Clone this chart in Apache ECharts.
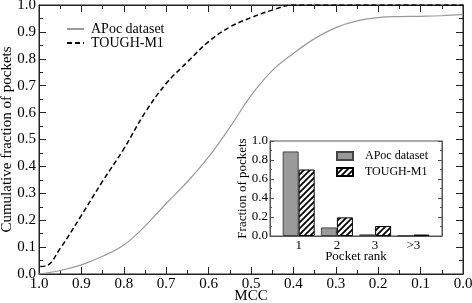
<!DOCTYPE html>
<html><head><meta charset="utf-8">
<script src="https://cdn.jsdelivr.net/npm/echarts@6/dist/echarts.min.js"></script>
<style>html,body{margin:0;padding:0;background:#fff}#c{width:472px;height:303px}</style>
</head><body><div id="c"></div>
<script>
// ---- Data ----
const apocMCC  = [1.0, 0.95, 0.9, 0.85, 0.8, 0.75, 0.7, 0.65, 0.6, 0.55, 0.5, 0.45, 0.4, 0.35, 0.3, 0.25, 0.2, 0.15, 0.1, 0.05, 0.0];
const apocFrac = [0.0, 0.013, 0.034, 0.066, 0.108, 0.178, 0.262, 0.343, 0.435, 0.545, 0.663, 0.756, 0.82, 0.875, 0.916, 0.941, 0.953, 0.957, 0.958, 0.960, 0.965];
const toughMCC  = [0.997, 0.983, 0.95, 0.9, 0.85, 0.8, 0.75, 0.7, 0.65, 0.6, 0.55, 0.5, 0.45, 0.4, 0.0];
const toughFrac = [0.028, 0.03, 0.095, 0.218, 0.345, 0.465, 0.6, 0.708, 0.788, 0.864, 0.918, 0.953, 0.981, 1.0, 1.0];
const rankLabels = ['1', '2', '3', '>3'];
const rankPos = [1, 2, 3, 4];
const apocRank  = [0.89, 0.09, 0.017, 0.006];
const toughRank = [0.70, 0.196, 0.105, 0.015];

// ---- Styling ----
const FF = "'Liberation Serif','DejaVu Serif',serif";
const pc = document.createElement('canvas');
pc.width = 6; pc.height = 6;
const g = pc.getContext('2d');
g.fillStyle = '#fff'; g.fillRect(0, 0, 6, 6);
g.strokeStyle = '#000'; g.lineWidth = 1.8;
g.beginPath();
g.moveTo(-1, 7); g.lineTo(7, -1);
g.moveTo(-4, 4); g.lineTo(4, -4);
g.moveTo(2, 10); g.lineTo(10, 2);
g.stroke();

const axisCol = '#222';
const mainX = (pos, labels) => ({
  gridIndex: 0, type: 'value', min: 0, max: 1, interval: 0.1, inverse: true, position: pos,
  axisLine: { show: true, onZero: false, lineStyle: { color: axisCol, width: 1 } },
  axisTick: { show: true, inside: true, length: 7, lineStyle: { color: axisCol } },
  minorTick: { show: true, splitNumber: 2, length: 4, lineStyle: { color: axisCol } },
  splitLine: { show: false },
  axisLabel: { show: labels, fontFamily: FF, fontSize: 15, color: '#000', margin: 3,
               formatter: v => v.toFixed(1) },
  name: labels ? 'MCC' : '', nameLocation: 'middle', nameGap: 15, nameMoveOverlap: false,
  nameTextStyle: { fontFamily: FF, fontSize: 15, color: '#000' }
});
const mainY = (pos, labels) => ({
  gridIndex: 0, type: 'value', min: 0, max: 1, interval: 0.1, position: pos,
  axisLine: { show: true, onZero: false, lineStyle: { color: axisCol, width: 1 } },
  axisTick: { show: true, inside: true, length: 7, lineStyle: { color: axisCol } },
  minorTick: { show: true, splitNumber: 2, length: 4, lineStyle: { color: axisCol } },
  splitLine: { show: false },
  axisLabel: { show: labels, fontFamily: FF, fontSize: 15, color: '#000', margin: 3,
               formatter: v => v.toFixed(1) },
  name: labels ? 'Cumulative fraction of pockets' : '', nameLocation: 'middle', nameGap: 24, nameMoveOverlap: false,
  nameTextStyle: { fontFamily: FF, fontSize: 15, color: '#000' }
});
const inCol = '#555';
const insetY = (pos, labels) => ({
  gridIndex: 1, type: 'value', min: 0, max: 1, interval: 0.2, position: pos,
  axisLine: { show: true, onZero: false, lineStyle: { color: inCol, width: 1 } },
  axisTick: { show: true, inside: true, length: 4, lineStyle: { color: inCol } },
  minorTick: { show: true, splitNumber: 2, length: 2, lineStyle: { color: inCol } },
  splitLine: { show: false },
  axisLabel: { show: labels, fontFamily: FF, fontSize: 13, color: '#000', margin: 2,
               formatter: v => v.toFixed(1) },
  name: labels ? 'Fraction of pockets' : '', nameLocation: 'middle', nameGap: 21, nameMoveOverlap: false,
  nameTextStyle: { fontFamily: FF, fontSize: 13, color: '#000' }
});

const chart = echarts.init(document.getElementById('c'), null, { renderer: 'canvas' });
chart.setOption({
  animation: false,
  backgroundColor: '#fff',
  grid: [
    { left: 39, right: 9, top: 5, bottom: 29, show: true, borderColor: axisCol, borderWidth: 1,
      containLabel: false, outerBoundsMode: 'none' },
    { left: 270, width: 172, top: 141, height: 95, show: true, backgroundColor: '#fff', borderColor: inCol, borderWidth: 1,
      containLabel: false, outerBoundsMode: 'none' }
  ],
  legend: [
    { data: ['APoc dataset', 'TOUGH-M1'], orient: 'vertical', left: 66, top: 22, padding: 0,
      itemWidth: 17, itemHeight: 10, itemGap: 0, itemStyle: { opacity: 0 },
      textStyle: { fontFamily: FF, fontSize: 14, color: '#000', lineHeight: 14, padding: [0, 0, 0, 2] } },
    { data: ['APoc dataset (rank)', 'TOUGH-M1 (rank)'], orient: 'vertical', left: 336, top: 150, padding: 0,
      itemWidth: 16, itemHeight: 8, itemGap: 4, icon: 'rect',
      formatter: n => n.replace(' (rank)', ''),
      textStyle: { fontFamily: FF, fontSize: 12, color: '#000', lineHeight: 12, padding: [0, 0, 0, 7] } }
  ],
  xAxis: [
    mainX('bottom', true),
    mainX('top', false),
    { gridIndex: 1, type: 'value', min: 0.25, max: 4.75, position: 'bottom',
      axisLine: { show: true, onZero: false, lineStyle: { color: inCol } },
      axisTick: { show: false }, splitLine: { show: false },
      axisLabel: { customValues: rankPos, fontFamily: FF, fontSize: 13, color: '#000', margin: 3,
                   formatter: v => rankLabels[rankPos.indexOf(v)] ?? '' },
      name: 'Pocket rank', nameLocation: 'middle', nameGap: 14, nameMoveOverlap: false,
      nameTextStyle: { fontFamily: FF, fontSize: 13, color: '#000' } }
  ],
  yAxis: [
    mainY('left', true),
    mainY('right', false),
    insetY('left', true),
    insetY('right', false)
  ],
  series: [
    { name: 'APoc dataset', type: 'line', xAxisIndex: 0, yAxisIndex: 0, symbol: 'none', smooth: 0.4,
      lineStyle: { color: '#9a9a9a', width: 1.2 }, itemStyle: { color: '#9a9a9a' },
      data: apocMCC.map((m, i) => [m, apocFrac[i]]) },
    { name: 'TOUGH-M1', type: 'line', xAxisIndex: 0, yAxisIndex: 0, symbol: 'none', smooth: 0.4,
      lineStyle: { color: '#000', width: 1.5, type: [5, 3] }, itemStyle: { color: '#000' },
      data: toughMCC.map((m, i) => [m, toughFrac[i]]) },
    { name: 'APoc dataset (rank)', type: 'bar', xAxisIndex: 2, yAxisIndex: 2, barWidth: 16, barGap: '0%',
      itemStyle: { color: '#9a9a9a', borderColor: '#444', borderWidth: 1 },
      data: rankPos.map((p, i) => [p, apocRank[i]]) },
    { name: 'TOUGH-M1 (rank)', type: 'bar', xAxisIndex: 2, yAxisIndex: 2, barWidth: 16, barGap: '0%',
      itemStyle: { color: { image: pc, repeat: 'repeat' }, borderColor: '#000', borderWidth: 1 },
      data: rankPos.map((p, i) => [p, toughRank[i]]) }
  ]
});
</script>
</body></html>
